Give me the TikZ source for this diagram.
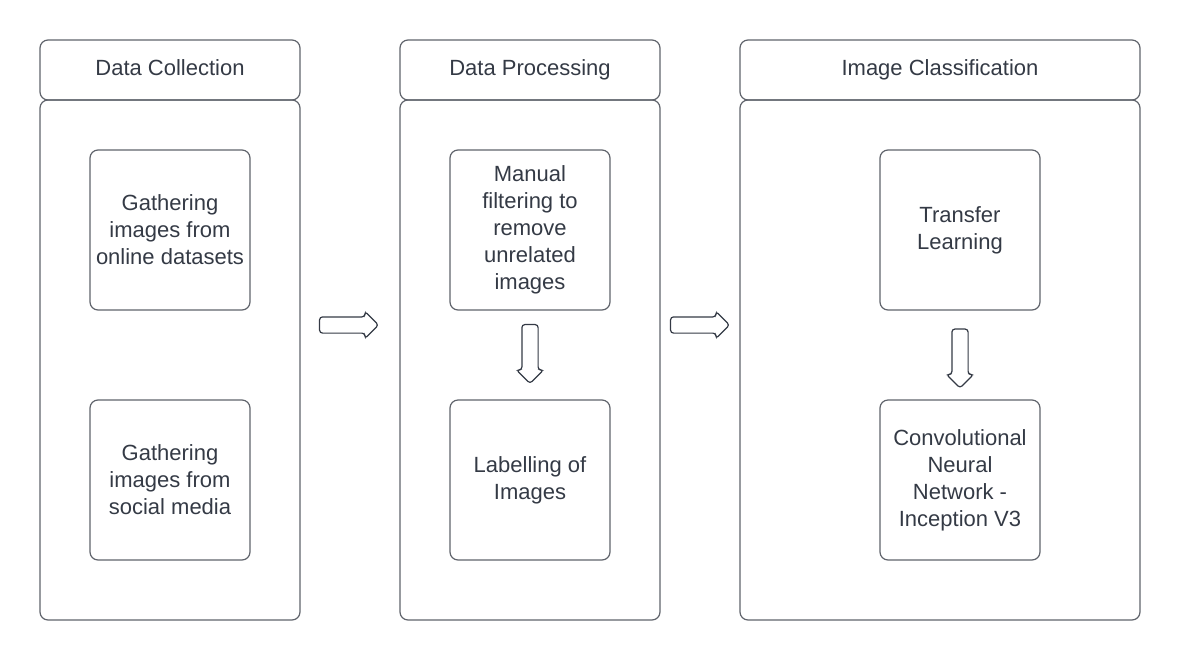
\documentclass[tikz,border=0pt]{standalone}
\usepackage{fontspec}
\setmainfont{Liberation Sans}
\usetikzlibrary{shapes.arrows}
\definecolor{linegray}{HTML}{60646C}
\definecolor{txtgray}{HTML}{343A45}

\begin{document}
\begin{tikzpicture}[x=0.5pt,y=-0.5pt,
  box/.style={draw=linegray,line width=0.6pt,rounded corners=4pt,text=txtgray,align=center,
    font=\fontsize{11}{13.5}\selectfont,inner sep=0pt},
  stepbox/.style={box,minimum width=80pt,minimum height=80pt},
  fatarrow/.style={draw=txtgray,line width=0.6pt,single arrow,single arrow head extend=2.75pt,
    inner sep=3.75pt,minimum height=29.5pt,rounded corners=1.5pt}]
\useasboundingbox (0,0) rectangle (1180,660);
%kolumner med rubrik
\foreach \n/\x/\w/\t in {1/170/130/Data Collection,2/530/130/Data Processing,3/940/200/Image Classification} {
\node[box,minimum width=\w pt,minimum height=30pt,text height=8pt,text depth=2.5pt] (head\n) at (\x,70) {\t};
\node[box,minimum width=\w pt,minimum height=260pt] (body\n) at (\x,360) {};
}
%steg
\node[stepbox] (online) at (170,230) {Gathering\\images from\\online datasets};
\node[stepbox] (social) at (170,480) {Gathering\\images from\\social media};
\node[stepbox] (filter) at (530,230) {Manual\\filtering to\\remove\\unrelated\\images};
\node[stepbox] (label) at (530,480) {Labelling of\\Images};
\node[stepbox] (transfer) at (960,230) {Transfer\\Learning};
\node[stepbox] (cnn) at (960,480) {Convolutional\\Neural\\Network -\\Inception V3};
%pilar
\node[fatarrow] (arr1) at (345,325) {};
\node[fatarrow] (arr2) at (696,325) {};
\node[fatarrow,shape border rotate=270] (arr3) at (530,350) {};
\node[fatarrow,shape border rotate=270] (arr4) at (960,354.5) {};
\end{tikzpicture}
\end{document}
